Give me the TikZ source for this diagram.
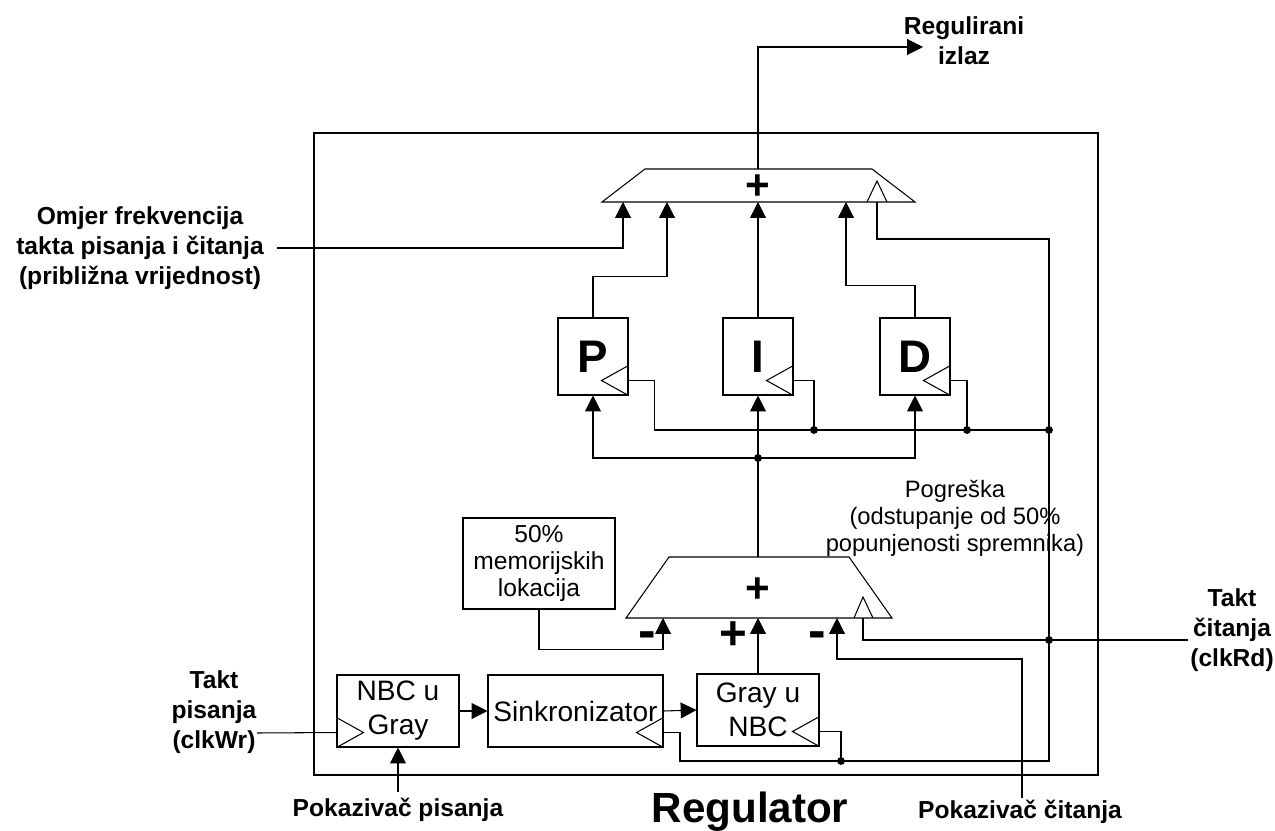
\documentclass[tikz,border=0pt]{standalone}
\usepackage{fontspec}
\setmainfont{Liberation Sans}
\usetikzlibrary{arrows.meta}

\newcommand{\clkR}[1]{\draw (#1.south east) -- ++(-27,-15) -- ++(27,-15);
  \path (#1.south east) ++(0,-15) coordinate (#1c);}
\newcommand{\clkL}[1]{\draw (#1.south west) -- ++(27,-15) -- ++(-27,-15);
  \path (#1.south west) ++(0,-15) coordinate (#1c);}

\begin{document}
\begin{tikzpicture}
	[x=0.02cm,y=-0.02cm,line width=0.6pt,
	 arr/.style={-{Triangle[length=9pt,width=9pt]}},
	 box/.style={draw,minimum width=1.4cm,minimum height=1.54cm,inner sep=0pt,font=\fontsize{26}{28}\selectfont\bfseries},
	 blok/.style={draw,minimum width=2.44cm,minimum height=1.44cm,inner sep=0pt,align=center,font=\fontsize{16}{19.3}\selectfont},
	 lbl/.style={align=center,font=\fontsize{14}{17}\selectfont\bfseries},
	 txt/.style={align=center,font=\fontsize{13.5}{15.3}\selectfont},
	 spoj/.style={circle,fill,inner sep=0pt,minimum size=4.5pt},
	 sgn/.style={font=\fontsize{24}{24}\selectfont\bfseries}]

	\useasboundingbox (0,0) rectangle (1275,831);

	% okvir regulatora
	\draw (314,133) rectangle (1098,775);

	% zbrajala
	\draw (602,202) -- (645,169) -- (872,169) -- (915,202) -- cycle;
	\draw (867,202) -- (877,181) -- (887,202);
	\node[sgn] (plusA) at (758,187) {+};
	\draw (626,618) -- (669,557) -- (849,557) -- (892,618) -- cycle;
	\draw (854,618) -- (863,597) -- (873,618);
	\node[sgn] (plusB) at (758,590) {+};

	\coordinate (mA1) at (623,202);
	\coordinate (mA2) at (667,202);
	\coordinate (mA3) at (758,202);
	\coordinate (mA4) at (846,202);
	\coordinate (cA) at (877,202);
	\coordinate (mAtop) at (758,169);
	\coordinate (izlaz) at (923,47);
	\coordinate (mB1) at (663,618);
	\coordinate (mB2) at (758,618);
	\coordinate (mB3) at (837,618);
	\coordinate (cB) at (863,618);
	\coordinate (mBtop) at (758,557);
	\coordinate (j1) at (1049,430);
	\coordinate (j2) at (1049,640);
	\coordinate (j3) at (841,761);
	\coordinate (d1) at (814,430);
	\coordinate (d2) at (967,430);
	\coordinate (d3) at (758,458);
	\coordinate (tc) at (1188,640);
	\coordinate (tp) at (257,733);
	\coordinate (om) at (277,248);
	\coordinate (pcT) at (1022,798);

	% blokovi
	\node[box] (P) at (593,356.5) {P};
	\node[box] (I) at (758,356.5) {I};
	\node[box] (D) at (915,356.5) {D};
	\node[blok] (N) at (398,711) {NBC u\\Gray};
	\node[blok,minimum width=3.5cm] (S) at (575.5,711) {Sinkronizator};
	\node[blok] (G) at (758,710) {Gray u\\NBC};
	\node[draw,txt,font=\fontsize{14}{15.3}\selectfont,minimum width=3.04cm,minimum height=1.82cm,inner sep=0pt] (pola) at (539,563.5) {50\%\\memorijskih\\lokacija};

	\clkR{P} \clkR{I} \clkR{D} \clkR{S} \clkR{G} \clkL{N}

	% natpisi
	\node[lbl] (izl) at (964,41) {Regulirani\\izlaz};
	\node[lbl] (omjer) at (140,248) {Omjer frekvencija\\takta pisanja i čitanja\\(približna vrijednost)};
	\node[lbl] (tpis) at (214,712) {Takt\\pisanja\\(clkWr)};
	\node[lbl] (tcit) at (1232,630) {Takt\\čitanja\\(clkRd)};
	\node[lbl] (ppis) at (398,810) {Pokazivač pisanja};
	\node[lbl] (pcit) at (1020,812) {Pokazivač čitanja};
	\node[font=\fontsize{24}{28}\selectfont\bfseries] (reg) at (750,812) {Regulator};
	\node[txt] (pogr) at (955,518) {Pogreška\\(odstupanje od 50\%\\popunjenosti spremnika)};
	\node[sgn,font=\fontsize{30}{30}\selectfont\bfseries] (m1) at (647,640) {-};
	\node[sgn,font=\fontsize{27}{27}\selectfont\bfseries] (p1) at (733,636) {+};
	\node[sgn,font=\fontsize{30}{30}\selectfont\bfseries] (m2) at (817,640) {-};

	% podaci
	\draw[arr] (mAtop) -- (758,47) -- (izlaz);
	\draw[arr] (om) -| (mA1);
	\draw[arr] (P.north) -- ++(0,-41) -| (mA2);
	\draw[arr] (I.north) -- (mA3);
	\draw[arr] (D.north) -- ++(0,-32) -| (mA4);
	\draw[arr] (mBtop) -- (I.south);
	\draw[arr] (d3) -| (P.south);
	\draw[arr] (d3) -| (D.south);
	\draw[arr] (pola.south) -- ++(0,40) -| (mB1);
	\draw[arr] (G.north) -- (mB2);
	\draw[arr] (pcT) -- ++(0,-139) -| (mB3);
	\draw[arr] (N.east) -- (S.west);
	\draw[arr] (S.east) -- (G.west);
	\draw[arr] (ppis.north) -- (N.south);

	% takt
	\draw (cA) -- ++(0,37) -| (j1);
	\draw (Pc) -- ++(26,0) |- (j1);
	\draw (Ic) -| (d1);
	\draw (Dc) -| (d2);
	\draw (j1) -- (j2) |- (j3);
	\draw (j3) -- (680,761) |- (Sc);
	\draw (Gc) -| (j3);
	\draw (cB) |- (j2) -- (tc);
	\draw (tp) -- (Nc);

	\node[spoj] (s1) at (j1) {};
	\node[spoj] (s2) at (j2) {};
	\node[spoj] (s3) at (j3) {};
	\node[spoj] (s4) at (d1) {};
	\node[spoj] (s5) at (d2) {};
	\node[spoj] (s6) at (d3) {};
\end{tikzpicture}
\end{document}
